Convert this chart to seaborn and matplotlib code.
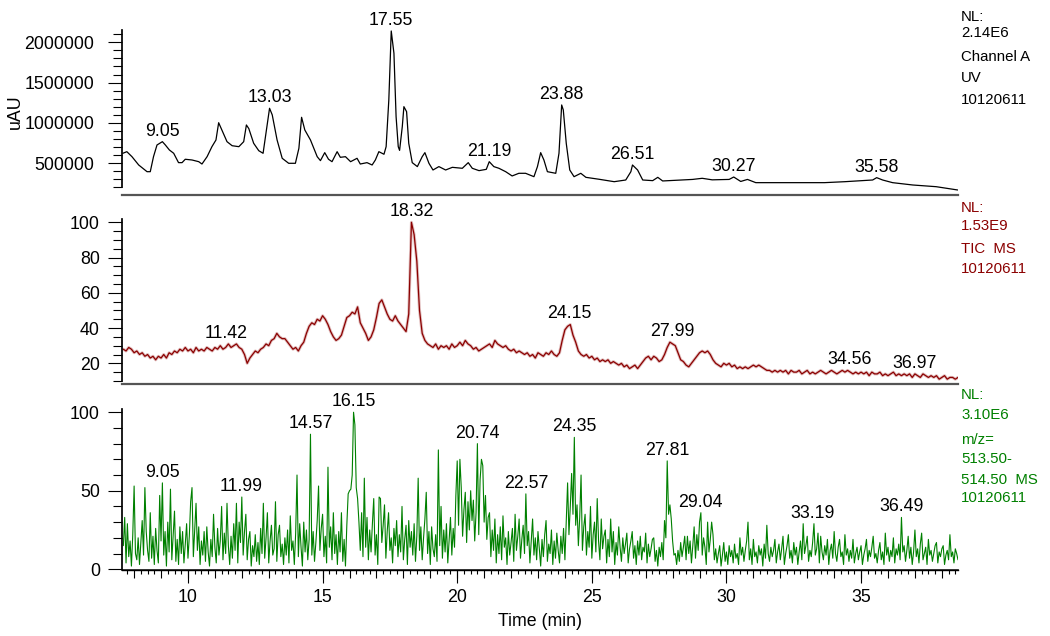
import numpy as np
import pandas as pd
import matplotlib
matplotlib.use('Agg')
import matplotlib.pyplot as plt
from matplotlib.ticker import FixedLocator, MultipleLocator, NullFormatter
import seaborn as sns

# --- UV trace (Channel A): time (min) / signal (uAU)
uv_time = [7.58, 7.73, 7.92, 8.17, 8.48, 8.60, 8.72, 8.85, 9.05, 9.16,
           9.31, 9.47, 9.65, 9.78, 9.90, 10.15, 10.40, 10.52, 10.71, 10.89,
           11.04, 11.14, 11.26, 11.45, 11.64, 11.89, 12.07, 12.17, 12.26, 12.44,
           12.63, 12.79, 12.88, 13.03, 13.13, 13.31, 13.50, 13.74, 13.99, 14.12,
           14.22, 14.34, 14.55, 14.80, 14.92, 15.08, 15.22, 15.35, 15.54, 15.66,
           15.85, 16.04, 16.28, 16.40, 16.65, 16.84, 16.96, 17.09, 17.28, 17.36,
           17.46, 17.55, 17.65, 17.73, 17.81, 17.86, 17.96, 18.02, 18.12, 18.20,
           18.33, 18.52, 18.70, 18.80, 18.95, 19.10, 19.32, 19.57, 19.82, 20.19,
           20.41, 20.56, 20.81, 21.08, 21.19, 21.36, 21.55, 21.80, 22.04, 22.29,
           22.54, 22.85, 22.98, 23.10, 23.22, 23.35, 23.66, 23.78, 23.88, 23.94,
           24.05, 24.18, 24.34, 24.59, 24.78, 25.27, 25.83, 26.26, 26.45, 26.51,
           26.70, 26.89, 27.26, 27.45, 27.63, 28.18, 28.74, 29.10, 29.47, 30.10,
           30.27, 30.53, 30.78, 31.09, 33.64, 34.40, 35.43, 35.58, 35.80, 36.17,
           36.92, 37.79, 38.59]
uv_signal = [624000, 644000, 582000, 479000, 396000, 396000, 582000, 727000, 768000, 727000,
             665000, 624000, 508000, 508000, 550000, 541000, 520000, 491000, 582000, 706000,
             789000, 1003000, 913000, 768000, 718000, 706000, 768000, 975000, 930000, 748000,
             656000, 624000, 830000, 1182000, 1100000, 789000, 562000, 500000, 500000, 686000,
             1070000, 913000, 789000, 582000, 533000, 632000, 550000, 520000, 644000, 574000,
             582000, 520000, 562000, 491000, 508000, 479000, 541000, 644000, 612000, 706000,
             1285000, 2140000, 1864000, 1078000, 706000, 660000, 954000, 1202000, 1140000, 748000,
             508000, 459000, 582000, 632000, 500000, 417000, 459000, 417000, 450000, 438000,
             508000, 438000, 409000, 425000, 520000, 459000, 438000, 396000, 343000, 376000,
             376000, 334000, 459000, 632000, 541000, 396000, 376000, 624000, 1223000, 1161000,
             748000, 417000, 334000, 376000, 326000, 302000, 272000, 293000, 396000, 479000,
             417000, 293000, 285000, 326000, 281000, 290000, 300000, 314000, 295000, 300000,
             330000, 275000, 300000, 260000, 260000, 272000, 293000, 322000, 293000, 260000,
             231000, 210000, 169000]

# --- TIC MS (relative %), one reading every 0.1 min from 7.6 min
tic_start, tic_step = 7.6, 0.1
tic_signal = [28, 27, 29, 28, 26, 27, 25, 26, 24, 25,
              23, 24, 22, 24, 23, 25, 23, 26, 25, 27,
              26, 28, 27, 29, 27, 28, 26, 29, 27, 28,
              27, 29, 28, 27, 29, 28, 30, 28, 29, 31,
              29, 30, 31, 29, 28, 25, 20, 23, 25, 27,
              26, 28, 29, 31, 30, 33, 34, 37, 35, 34,
              34, 32, 30, 28, 29, 27, 30, 32, 37, 41,
              43, 42, 45, 44, 47, 45, 42, 38, 35, 33,
              34, 36, 41, 46, 47, 49, 48, 52, 43, 40,
              37, 33, 35, 39, 46, 54, 56, 52, 48, 45,
              44, 47, 44, 42, 40, 38, 48, 100, 93, 78,
              50, 37, 33, 31, 30, 29, 31, 28, 30, 29,
              30, 28, 31, 29, 30, 32, 30, 33, 31, 30,
              28, 29, 27, 28, 29, 30, 31, 29, 33, 31,
              30, 29, 30, 28, 27, 28, 26, 27, 26, 25,
              26, 24, 25, 23, 26, 25, 24, 26, 25, 27,
              25, 24, 26, 33, 39, 41, 42, 36, 32, 27,
              25, 24, 25, 23, 24, 22, 23, 21, 22, 21,
              22, 20, 21, 20, 19, 20, 18, 19, 17, 18,
              19, 17, 19, 21, 23, 24, 22, 24, 23, 21,
              22, 25, 29, 32, 31, 30, 26, 22, 21, 19,
              18, 20, 22, 24, 26, 27, 26, 27, 25, 22,
              20, 19, 18, 20, 19, 20, 18, 19, 17, 18,
              17, 18, 17, 18, 19, 18, 19, 18, 17, 16,
              16, 15, 16, 15, 16, 15, 16, 14, 16, 15,
              15, 16, 14, 15, 16, 14, 15, 14, 15, 16,
              15, 14, 15, 16, 15, 14, 15, 16, 15, 16,
              15, 14, 15, 14, 15, 14, 15, 13, 15, 14,
              14, 15, 13, 14, 13, 14, 15, 13, 14, 13,
              14, 13, 14, 12, 14, 13, 12, 14, 13, 12,
              13, 12, 13, 11, 12, 13, 11, 12, 12, 11,
              12]

# --- m/z 513.50-514.50 (relative %), one reading every 0.05 min from 7.6 min
ms_start, ms_step = 7.6, 0.05
ms_signal = [15, 33, 4, 29, 8, 18, 2, 22, 53, 10, 6, 20, 3, 17, 31, 9, 52, 24, 12, 5,
             36, 7, 21, 3, 26, 12, 4, 47, 18, 55, 9, 24, 2, 30, 11, 51, 6, 22, 37, 5,
             19, 3, 27, 10, 24, 4, 16, 29, 7, 21, 43, 52, 8, 25, 42, 12, 27, 3, 18, 9,
             24, 5, 27, 11, 2, 19, 8, 35, 14, 4, 26, 9, 18, 40, 6, 23, 10, 42, 15, 3,
             21, 7, 29, 12, 42, 4, 30, 17, 46, 9, 24, 35, 6, 19, 24, 2, 15, 8, 22, 5,
             17, 3, 26, 10, 42, 7, 20, 36, 4, 18, 28, 9, 13, 43, 5, 22, 28, 8, 16, 3,
             20, 9, 25, 4, 34, 12, 18, 3, 23, 60, 8, 29, 14, 2, 30, 11, 25, 6, 19, 86,
             9, 24, 5, 17, 31, 53, 12, 26, 35, 8, 21, 4, 65, 14, 27, 6, 36, 10, 22, 3,
             24, 11, 36, 5, 19, 2, 28, 48, 50, 51, 60, 100, 92, 52, 45, 30, 12, 36, 8, 58,
             14, 33, 6, 25, 11, 29, 45, 9, 22, 3, 46, 45, 17, 28, 41, 7, 24, 36, 12, 20,
             4, 26, 15, 31, 8, 22, 11, 40, 6, 19, 28, 3, 31, 14, 24, 9, 29, 5, 21, 58,
             12, 27, 6, 20, 32, 49, 10, 24, 3, 27, 13, 8, 22, 5, 76, 15, 40, 7, 25, 11,
             29, 4, 18, 33, 9, 26, 14, 47, 69, 28, 70, 52, 21, 38, 49, 17, 43, 25, 50, 31,
             44, 18, 36, 80, 22, 57, 70, 66, 30, 47, 19, 33, 36, 8, 25, 12, 32, 4, 22, 10,
             27, 6, 34, 14, 20, 3, 24, 9, 17, 26, 5, 35, 12, 21, 32, 7, 19, 28, 10, 48,
             15, 24, 4, 18, 32, 9, 20, 6, 24, 13, 2, 19, 8, 22, 31, 5, 16, 10, 25, 3,
             18, 7, 23, 12, 4, 21, 10, 26, 6, 30, 55, 22, 40, 61, 35, 84, 28, 41, 15, 33,
             60, 12, 27, 35, 9, 24, 14, 40, 7, 22, 30, 11, 45, 18, 6, 32, 13, 21, 25, 4,
             19, 8, 32, 11, 24, 3, 17, 9, 27, 14, 5, 20, 10, 16, 23, 4, 13, 18, 24, 7,
             15, 3, 18, 9, 21, 6, 14, 11, 23, 4, 16, 8, 13, 19, 20, 5, 12, 2, 14, 8,
             17, 6, 31, 20, 69, 35, 41, 32, 18, 9, 10, 3, 12, 5, 17, 8, 14, 21, 6, 21,
             10, 18, 4, 15, 27, 7, 22, 12, 30, 36, 9, 20, 14, 3, 30, 11, 19, 30, 22, 6,
             13, 4, 10, 15, 2, 9, 17, 5, 11, 3, 15, 8, 12, 4, 16, 7, 10, 3, 20, 9,
             14, 5, 12, 18, 30, 6, 13, 3, 19, 8, 11, 4, 15, 9, 13, 2, 16, 7, 28, 10,
             5, 14, 8, 12, 19, 4, 11, 16, 6, 13, 21, 3, 10, 15, 22, 7, 12, 4, 17, 9,
             14, 3, 11, 18, 6, 29, 10, 15, 21, 5, 12, 8, 17, 29, 9, 13, 23, 4, 21, 11,
             6, 15, 9, 19, 3, 12, 16, 7, 24, 10, 5, 14, 19, 8, 11, 3, 22, 9, 13, 5,
             12, 7, 19, 4, 10, 14, 6, 11, 15, 3, 9, 13, 19, 5, 12, 8, 14, 21, 7, 10,
             4, 12, 17, 6, 11, 3, 23, 9, 14, 5, 12, 8, 20, 4, 13, 9, 16, 6, 33, 11,
             15, 5, 12, 21, 7, 14, 3, 11, 25, 8, 13, 4, 16, 23, 6, 10, 14, 3, 19, 9,
             12, 5, 10, 15, 17, 4, 11, 8, 13, 15, 3, 9, 12, 6, 22, 8, 11, 4, 13, 10,
             6]

# peak labels (retention times) written on each trace
uv_peaks = [9.05, 13.03, 17.55, 21.19, 23.88, 26.51, 30.27, 35.58]
tic_peaks = [11.42, 18.32, 24.15, 27.99, 34.56, 36.97]
ms_peaks = [9.05, 11.99, 14.57, 16.15, 20.74, 22.57, 24.35, 27.81, 29.04, 33.19, 36.49]

# header notes at the right of each trace
uv_notes = ['NL:', '2.14E6', 'Channel A', 'UV', '10120611']
tic_notes = ['NL:', '1.53E9', 'TIC  MS', '10120611']
ms_notes = ['NL:', '3.10E6', 'm/z=', '513.50-', '514.50  MS', '10120611']

RED = '#8b0000'
GREEN = '#008000'
FS = 12.8

sns.set_theme(style='ticks')
plt.rcParams['font.family'] = ['Liberation Sans', 'DejaVu Sans']
plt.rcParams['text.color'] = 'black'
plt.rcParams['axes.labelcolor'] = 'black'
plt.rcParams['xtick.color'] = 'black'
plt.rcParams['ytick.color'] = 'black'

W, H = 1050, 636
fig = plt.figure(figsize=(W / 100, H / 100), dpi=100)


def axes_px(top, bottom, left=122, right=958):
    ax = fig.add_axes([left / W, 1 - bottom / H, (right - left) / W, (bottom - top) / H])
    ax.patch.set_alpha(0)
    return ax


ax1 = axes_px(28, 195)
ax2 = axes_px(195, 384.3)
ax3 = axes_px(384.3, 570)

uv = pd.DataFrame({'time': uv_time, 'signal': uv_signal})
tic = pd.DataFrame({'time': np.round(tic_start + tic_step * np.arange(len(tic_signal)), 2),
                    'signal': tic_signal})
ms = pd.DataFrame({'time': np.round(ms_start + ms_step * np.arange(len(ms_signal)), 2),
                   'signal': ms_signal})

sns.lineplot(data=uv, x='time', y='signal', ax=ax1, color='black', lw=0.9, estimator=None)
sns.lineplot(data=tic, x='time', y='signal', ax=ax2, color=RED, lw=2.2, alpha=0.25, estimator=None)
sns.lineplot(data=tic, x='time', y='signal', ax=ax2, color=RED, lw=0.9, estimator=None)
sns.lineplot(data=ms, x='time', y='signal', ax=ax3, color=GREEN, lw=0.8, estimator=None)


def label_peaks(ax, df, peaks, window):
    t = df['time'].to_numpy()
    y = df['signal'].to_numpy()
    for p in peaks:
        near = np.abs(t - p) <= window
        top = np.interp(p, t, y)
        if near.any():
            top = max(top, y[near].max())
        ax.annotate(f'{p:.2f}', (p, top), xytext=(0, 1.5), textcoords='offset points',
                    ha='center', va='bottom', fontsize=FS, color='black', annotation_clip=False)


label_peaks(ax1, uv, uv_peaks, 0.06)
label_peaks(ax2, tic, tic_peaks, 0.1)
label_peaks(ax3, ms, ms_peaks, 0.07)

# axes limits and ticks
for ax in (ax1, ax2, ax3):
    ax.set_xlim(7.55, 38.6)
    ax.set_xlabel('')
    ax.set_ylabel('')
    ax.spines['top'].set_visible(False)
    ax.spines['right'].set_visible(False)
    ax.spines['left'].set_color('black')
    ax.tick_params(axis='y', which='major', direction='out', length=10, width=0.8,
                   labelsize=FS, colors='black', pad=6)
    ax.tick_params(axis='y', which='minor', direction='out', length=6.5, width=0.8)

ax1.set_ylim(107000, 2177000)
ax1.yaxis.set_major_locator(FixedLocator([500000, 1000000, 1500000, 2000000]))
ax1.yaxis.set_minor_locator(FixedLocator(np.arange(200000, 2100001, 100000)))
ax1.ticklabel_format(axis='y', style='plain', useOffset=False)
ax1.spines['left'].set_bounds(200000, 2150000)
ax1.tick_params(axis='y', which='major', pad=10)
ax1.set_ylabel('uAU', fontsize=FS, color='black')
ax1.yaxis.set_label_coords(-0.117, 0.5)

ax2.set_ylim(8.1, 115.5)
ax2.yaxis.set_major_locator(FixedLocator([20, 40, 60, 80, 100]))
ax2.yaxis.set_minor_locator(FixedLocator(np.arange(10, 101, 5)))
ax2.spines['left'].set_bounds(10, 102)

ax3.set_ylim(-0.5, 117.8)
ax3.yaxis.set_major_locator(FixedLocator([0, 50, 100]))
ax3.yaxis.set_minor_locator(FixedLocator(np.arange(0, 101, 10)))
ax3.spines['left'].set_bounds(0, 102)

for ax in (ax1, ax2):
    ax.tick_params(axis='x', which='both', bottom=False, labelbottom=False)
    ax.spines['bottom'].set_color('#555555')
    ax.spines['bottom'].set_linewidth(1.6)

ax3.spines['bottom'].set_color('black')
ax3.spines['bottom'].set_linewidth(1.0)
ax3.xaxis.set_major_locator(MultipleLocator(1))
ax3.xaxis.set_minor_locator(MultipleLocator(0.25))
ax3.xaxis.set_major_formatter(NullFormatter())
ax3.tick_params(axis='x', which='major', direction='out', length=6, width=0.8, colors='black')
ax3.tick_params(axis='x', which='minor', direction='out', length=3, width=0.8, colors='black')

sec = ax3.secondary_xaxis('bottom')
sec.set_xticks([10, 15, 20, 25, 30, 35])
sec.tick_params(axis='x', direction='out', length=9, width=0.8, labelsize=FS, pad=5, colors='black')
sec.set_xlabel('Time (min)', fontsize=FS, labelpad=5, color='black')

# notes to the right of each trace (pixel rows of each line)
note_rows = [
    (uv_notes, [16.7, 33.3, 56.7, 78.3, 99.5], 'black'),
    (tic_notes, [207.5, 225.5, 249, 269], RED),
    (ms_notes, [395, 415, 439.5, 459, 479.5, 498.5], GREEN),
]
for lines, ys, col in note_rows:
    for line, y in zip(lines, ys):
        fig.text(961 / W, 1 - y / H, line, ha='left', va='center', fontsize=10.8, color=col)

fig.savefig('out.png', dpi=100)
